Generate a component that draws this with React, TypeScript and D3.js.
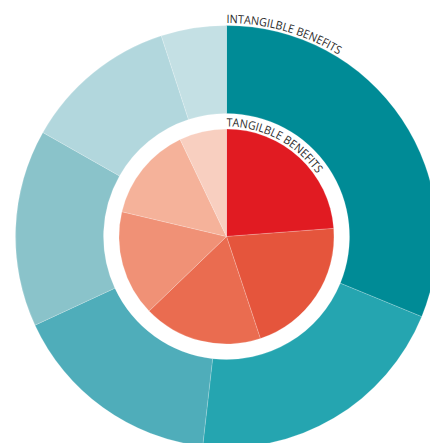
import { useEffect, useRef } from "react";
import * as d3 from "d3";

// outer ring: intangible benefits (share of circle, clockwise from 12 o'clock)
const intangibleValues = [31.2, 20.6, 16.3, 15.1, 11.8, 5];
const intangibleColors = ["#008b96", "#25a5b0", "#4fadba", "#8ac3ca", "#b2d7dd", "#c4e0e4"];

// inner pie: tangible benefits
const tangibleValues = [23.8, 21.1, 17.9, 15.9, 14.2, 7.1];
const tangibleColors = ["#e11b22", "#e5553c", "#ea6c50", "#f09176", "#f5b29a", "#f8cfc0"];

const outerLabel = "INTANGILBLE BENEFITS";
const innerLabel = "TANGILBLE BENEFITS";

const WIDTH = 430;
const HEIGHT = 443;

const App = () => {
  const svgRef = useRef<SVGSVGElement>(null);

  useEffect(() => {
    const svg = d3.select(svgRef.current);
    svg.selectAll("*").remove();

    const cx = 226.5;
    const cy = 236.5;
    const outerR = 211;
    const ringInnerR = 123;
    const pieR = 107.5;

    const g = svg.append("g").attr("transform", `translate(${cx}, ${cy})`);

    const pie = d3.pie<number>().sort(null).value((d) => d);

    // outer ring
    const ringArc = d3.arc<d3.PieArcDatum<number>>().innerRadius(ringInnerR).outerRadius(outerR);
    g.selectAll("path.ring")
      .data(pie(intangibleValues))
      .join("path")
      .attr("class", "ring")
      .attr("d", ringArc)
      .attr("fill", (_, i) => intangibleColors[i])
      .attr("stroke", "#ffffff")
      .attr("stroke-opacity", 0.3)
      .attr("stroke-width", 0.6);

    // inner pie
    const pieArc = d3.arc<d3.PieArcDatum<number>>().innerRadius(0).outerRadius(pieR);
    g.selectAll("path.slice")
      .data(pie(tangibleValues))
      .join("path")
      .attr("class", "slice")
      .attr("d", pieArc)
      .attr("fill", (_, i) => tangibleColors[i])
      .attr("stroke", "#ffffff")
      .attr("stroke-opacity", 0.3)
      .attr("stroke-width", 0.6);

    // curved labels
    const labels = [
      { id: "outer-label-path", r: 213.5, text: outerLabel, len: 118 },
      { id: "inner-label-path", r: 110, text: innerLabel, len: 106 },
    ];
    labels.forEach((l) => {
      const path = d3.path();
      path.arc(0, 0, l.r, -Math.PI / 2, Math.PI / 2);
      g.append("path").attr("id", l.id).attr("d", path.toString()).attr("fill", "none");
      g.append("text")
        .attr("font-family", "'Open Sans', 'Noto Sans', sans-serif")
        .attr("font-size", 11.5)
        .attr("fill", "#2b2b2b")
        .append("textPath")
        .attr("href", `#${l.id}`)
        .attr("startOffset", 0)
        .attr("textLength", l.len)
        .attr("lengthAdjust", "spacingAndGlyphs")
        .text(l.text);
    });
  }, []);

  return (
    <svg
      ref={svgRef}
      width={WIDTH}
      height={HEIGHT}
      style={{ position: "absolute", left: 0, top: 0, background: "#ffffff" }}
    />
  );
};

export default App;
